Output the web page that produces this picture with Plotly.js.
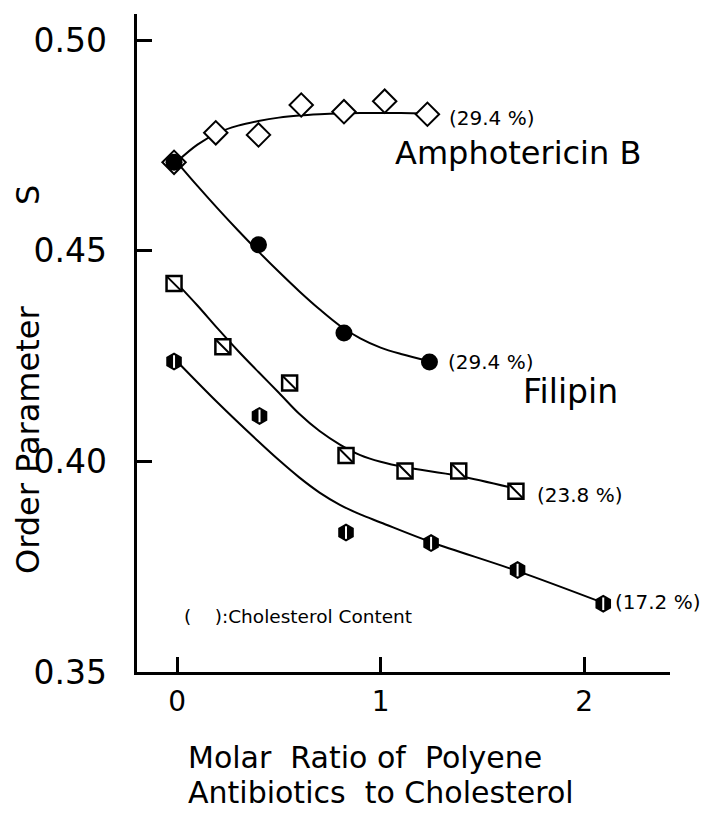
<!DOCTYPE html>
<html>
<head>
<meta charset="utf-8">
<script src="https://cdn.plot.ly/plotly-3.0.1.min.js"></script>
<style>
  html, body { margin: 0; padding: 0; background: #ffffff; }
  #chart { width: 707px; height: 824px; }
</style>
</head>
<body>
<div id="chart"></div>
<script>
// ---- Data ----
// Amphotericin B (open diamonds, 29.4 % cholesterol)
var ampX = [-0.015, 0.19, 0.40, 0.61, 0.82, 1.02, 1.23];
var ampY = [0.4710, 0.4780, 0.4775, 0.4846, 0.4830, 0.4855, 0.4824];
var ampCurveX = [0.0, 0.1, 0.2, 0.3, 0.4, 0.5, 0.6, 0.7, 0.8, 0.9, 1.0, 1.1, 1.23];
var ampCurveY = [0.4712, 0.4752, 0.4780, 0.4797, 0.4808, 0.4816, 0.4821, 0.4824, 0.4826, 0.4827, 0.4827, 0.4827, 0.4826];

// Filipin, 29.4 % cholesterol (filled circles)
var fil294X = [-0.015, 0.40, 0.82, 1.24];
var fil294Y = [0.4710, 0.4514, 0.4305, 0.4236];
var fil294CurveX = [0.0, 0.1, 0.2, 0.3, 0.4, 0.5, 0.6, 0.7, 0.8, 0.9, 1.0, 1.1, 1.24];
var fil294CurveY = [0.4710, 0.4654, 0.4600, 0.4548, 0.4498, 0.4450, 0.4404, 0.4361, 0.4322, 0.4292, 0.4270, 0.4255, 0.4238];

// Filipin, 23.8 % cholesterol (squares with diagonal)
var fil238X = [-0.015, 0.225, 0.553, 0.83, 1.12, 1.384, 1.665];
var fil238Y = [0.4422, 0.4272, 0.4186, 0.4014, 0.3977, 0.3977, 0.3929];
var fil238CurveX = [0.0, 0.1, 0.2, 0.3, 0.4, 0.5, 0.6, 0.7, 0.8, 0.9, 1.0, 1.12, 1.38, 1.665];
var fil238CurveY = [0.4422, 0.4370, 0.4315, 0.4262, 0.4212, 0.4163, 0.4113, 0.4072, 0.4040, 0.4015, 0.3999, 0.3986, 0.3966, 0.3935];

// Filipin, 17.2 % cholesterol (half-filled hexagons)
var fil172X = [-0.015, 0.405, 0.83, 1.248, 1.673, 2.094];
var fil172Y = [0.4237, 0.4108, 0.3831, 0.3806, 0.3742, 0.3662];
var fil172CurveX = [0.0, 0.2, 0.4, 0.5, 0.6, 0.7, 0.8, 0.9, 1.0, 1.25, 1.67, 2.094];
var fil172CurveY = [0.4237, 0.4139, 0.4047, 0.4003, 0.3962, 0.3926, 0.3897, 0.3874, 0.3855, 0.3808, 0.3740, 0.3664];

// Axis ticks
var xTickVals = [0, 1, 2];
var xTickText = ["0", "1", "2"];
var yTickVals = [0.35, 0.40, 0.45, 0.50];
var yTickText = ["0.35", "0.40", "0.45", "0.50"];

// Text labels
var labelTexts = ["(29.4 %)", "Amphotericin B", "(29.4 %)", "Filipin", "(23.8 %)", "(17.2 %)",
                  "(&nbsp;&nbsp;&nbsp;&nbsp;):Cholesterol Content"];
var labelX = [1.325, 1.061, 1.322, 1.69, 1.759, 2.142, 0.023];
var labelY = [0.4816, 0.4732, 0.4236, 0.4165, 0.3921, 0.3667, 0.3631];
var labelSizes = [20, 32, 20, 33, 20, 20, 18.5];

var FONT = "DejaVu Sans, sans-serif";
var BLACK = "#000000";

function curve(x, y) {
  return {x: x, y: y, type: "scatter", mode: "lines",
          line: {color: BLACK, width: 2, shape: "spline", smoothing: 1},
          hoverinfo: "skip", showlegend: false};
}

var traces = [
  curve(ampCurveX, ampCurveY),
  curve(fil294CurveX, fil294CurveY),
  curve(fil238CurveX, fil238CurveY),
  curve(fil172CurveX, fil172CurveY),
  {x: ampX, y: ampY, type: "scatter", mode: "markers", showlegend: false,
   marker: {symbol: "diamond", size: 18, color: "#ffffff", line: {color: BLACK, width: 2}}},
  {x: fil294X, y: fil294Y, type: "scatter", mode: "markers", showlegend: false,
   marker: {symbol: "circle", size: 17, color: BLACK, line: {color: BLACK, width: 0}}},
  {x: fil238X, y: fil238Y, type: "scatter", mode: "markers", showlegend: false,
   marker: {symbol: "square", size: 15, color: "#ffffff", line: {color: BLACK, width: 2.5}}},
  {x: fil238X, y: fil238Y, type: "scatter", mode: "markers", showlegend: false,
   marker: {symbol: "line-nw", size: 14, color: BLACK, line: {color: BLACK, width: 2}}},
  {x: fil172X, y: fil172Y, type: "scatter", mode: "markers", showlegend: false,
   marker: {symbol: "hexagon", size: 18, color: BLACK, line: {color: BLACK, width: 0}}},
  {x: fil172X, y: fil172Y, type: "scatter", mode: "markers", showlegend: false,
   marker: {symbol: "line-ns", size: 9, color: "#ffffff", line: {color: "#ffffff", width: 2}}}
];

var annotations = [];
for (var i = 0; i < labelTexts.length; i++) {
  annotations.push({
    x: labelX[i], y: labelY[i], xref: "x", yref: "y",
    text: labelTexts[i], showarrow: false, xanchor: "left", yanchor: "middle",
    font: {family: FONT, size: labelSizes[i], color: BLACK}
  });
}
// Axis titles (drawn as annotations to match the reference placement)
annotations.push({
  xref: "paper", yref: "paper", x: -0.2045, y: 0.3526, textangle: -90,
  text: "Order Parameter", showarrow: false, xanchor: "center", yanchor: "middle",
  font: {family: FONT, size: 32, color: BLACK}
});
annotations.push({
  xref: "paper", yref: "paper", x: -0.2045, y: 0.7250, textangle: -90,
  text: "S", showarrow: false, xanchor: "center", yanchor: "middle",
  font: {family: FONT, size: 32, color: BLACK}
});
annotations.push({
  xref: "paper", yref: "paper", x: 0.092, y: -0.130,
  text: "Molar&nbsp;&nbsp;Ratio of&nbsp;&nbsp;Polyene", showarrow: false,
  xanchor: "left", yanchor: "middle",
  font: {family: FONT, size: 30, color: BLACK}
});
annotations.push({
  xref: "paper", yref: "paper", x: 0.092, y: -0.183,
  text: "Antibiotics&nbsp;&nbsp;to Cholesterol", showarrow: false,
  xanchor: "left", yanchor: "middle",
  font: {family: FONT, size: 30, color: BLACK}
});

var layout = {
  width: 707, height: 824,
  margin: {l: 137, r: 37, t: 14, b: 152},
  paper_bgcolor: "#ffffff", plot_bgcolor: "#ffffff",
  showlegend: false,
  xaxis: {
    range: [-0.197, 2.422], showgrid: false, zeroline: false,
    showline: true, linecolor: BLACK, linewidth: 3,
    ticks: "inside", ticklen: 15, tickwidth: 3, tickcolor: BLACK,
    tickmode: "array", tickvals: xTickVals, ticktext: xTickText,
    tickfont: {family: FONT, size: 28, color: BLACK},
    ticklabelstandoff: 2
  },
  yaxis: {
    range: [0.35, 0.5062], showgrid: false, zeroline: false,
    showline: true, linecolor: BLACK, linewidth: 3.5,
    ticks: "inside", ticklen: 15, tickwidth: 3, tickcolor: BLACK,
    tickmode: "array", tickvals: yTickVals, ticktext: yTickText,
    tickfont: {family: FONT, size: 33, color: BLACK},
    ticklabelstandoff: 20
  },
  annotations: annotations
};

Plotly.newPlot("chart", traces, layout, {displayModeBar: false, staticPlot: true});
</script>
</body>
</html>
